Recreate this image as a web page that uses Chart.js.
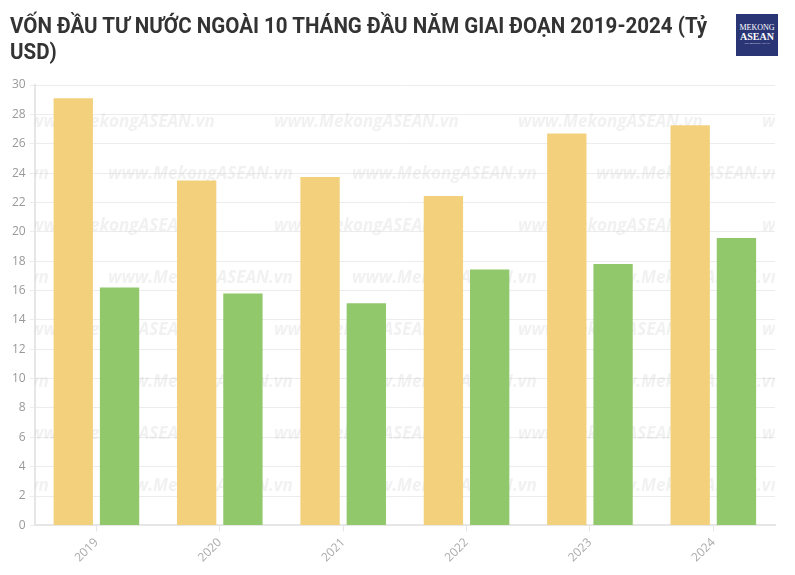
<!DOCTYPE html>
<html>
<head>
<meta charset="utf-8">
<script src="https://cdn.jsdelivr.net/npm/chart.js@4/dist/chart.umd.min.js"></script>
<style>
  html, body { margin:0; padding:0; background:#fff; }
  #wrap { position:relative; width:795px; height:575px; overflow:hidden; }
  #title { position:absolute; left:10px; top:13px; white-space:nowrap; font-family:"Roboto", sans-serif; font-weight:700; font-size:21.5px; line-height:26px; color:#333; transform:scaleX(0.955); transform-origin:left top; }
  #logo { position:absolute; left:736px; top:14px; width:42px; height:42px; background:#2a3575; color:#fff; text-align:center; font-family:"Liberation Serif", serif; }
  #logo .a { font-size:8px; margin-top:9px; letter-spacing:0; line-height:9px; }
  #logo .b { font-size:10px; font-weight:700; line-height:10px; }
  #logo .c { font-size:2.5px; line-height:4px; }
  canvas { position:absolute; left:0; top:0; }
</style>
</head>
<body>
<div id="wrap">
  <canvas id="c" width="795" height="575"></canvas>
  <div id="title">VỐN ĐẦU TƯ NƯỚC NGOÀI 10 THÁNG ĐẦU NĂM GIAI ĐOẠN 2019-2024 (Tỷ<br>USD)</div>
  <div id="logo"><div class="a">MEKONG</div><div class="b">ASEAN</div><div class="c">THE MEKONG-ASEAN</div></div>
</div>
<script>
const categories = ["2019", "2020", "2021", "2022", "2023", "2024"];
const registered = [29.1, 23.5, 23.74, 22.44, 26.7, 27.26];
const disbursed = [16.2, 15.8, 15.13, 17.43, 17.8, 19.58];
const seriesNames = ["Vốn đăng ký", "Vốn giải ngân"];

const watermark = {
  id: 'watermark',
  beforeDatasetsDraw(chart) {
    const {ctx, chartArea:a} = chart;
    ctx.save();
    ctx.beginPath();
    ctx.rect(a.left, a.top, a.right - a.left, a.bottom - a.top);
    ctx.clip();
    ctx.font = 'italic bold 17px "Open Sans", sans-serif';
    ctx.fillStyle = 'rgba(190,190,190,0.22)';
    ctx.textBaseline = 'middle';
    let row = 0;
    for (let y = 122; y < a.bottom; y += 52, row++) {
      const off = row % 2 === 0 ? 30 : 108;
      for (let x = off - 244; x < a.right; x += 244) {
        ctx.fillText('www.MekongASEAN.vn', x, y);
      }
    }
    ctx.restore();
  }
};

new Chart(document.getElementById('c'), {
  type: 'bar',
  data: {
    labels: categories,
    datasets: [
      { label: seriesNames[0], data: registered, backgroundColor: '#F3D07C', categoryPercentage: 0.75, barPercentage: 0.85 },
      { label: seriesNames[1], data: disbursed, backgroundColor: '#90C86B', categoryPercentage: 0.75, barPercentage: 0.85 }
    ]
  },
  plugins: [watermark],
  options: {
    responsive: false,
    animation: false,
    layout: { padding: { top: 85, left: 8, right: 20, bottom: 6 } },
    plugins: { legend: { display: false }, title: { display: false }, tooltip: { enabled: false } },
    scales: {
      x: {
        grid: { offset: false, drawOnChartArea: false, drawTicks: true, tickLength: 6, color: '#e6e6e6' },
        border: { color: '#e6e6e6', width: 2 },
        ticks: { color: '#aaa', font: { family: '"Open Sans", sans-serif', size: 12 }, maxRotation: 45, minRotation: 45, padding: 4 }
      },
      y: {
        min: 0, max: 30,
        grid: { color: '#ececec', tickLength: 5, lineWidth: 1 },
        border: { color: '#e6e6e6', width: 2 },
        ticks: { stepSize: 2, color: '#999', font: { family: '"Open Sans", sans-serif', size: 12 }, padding: 4 }
      }
    }
  }
});
</script>
</body>
</html>
